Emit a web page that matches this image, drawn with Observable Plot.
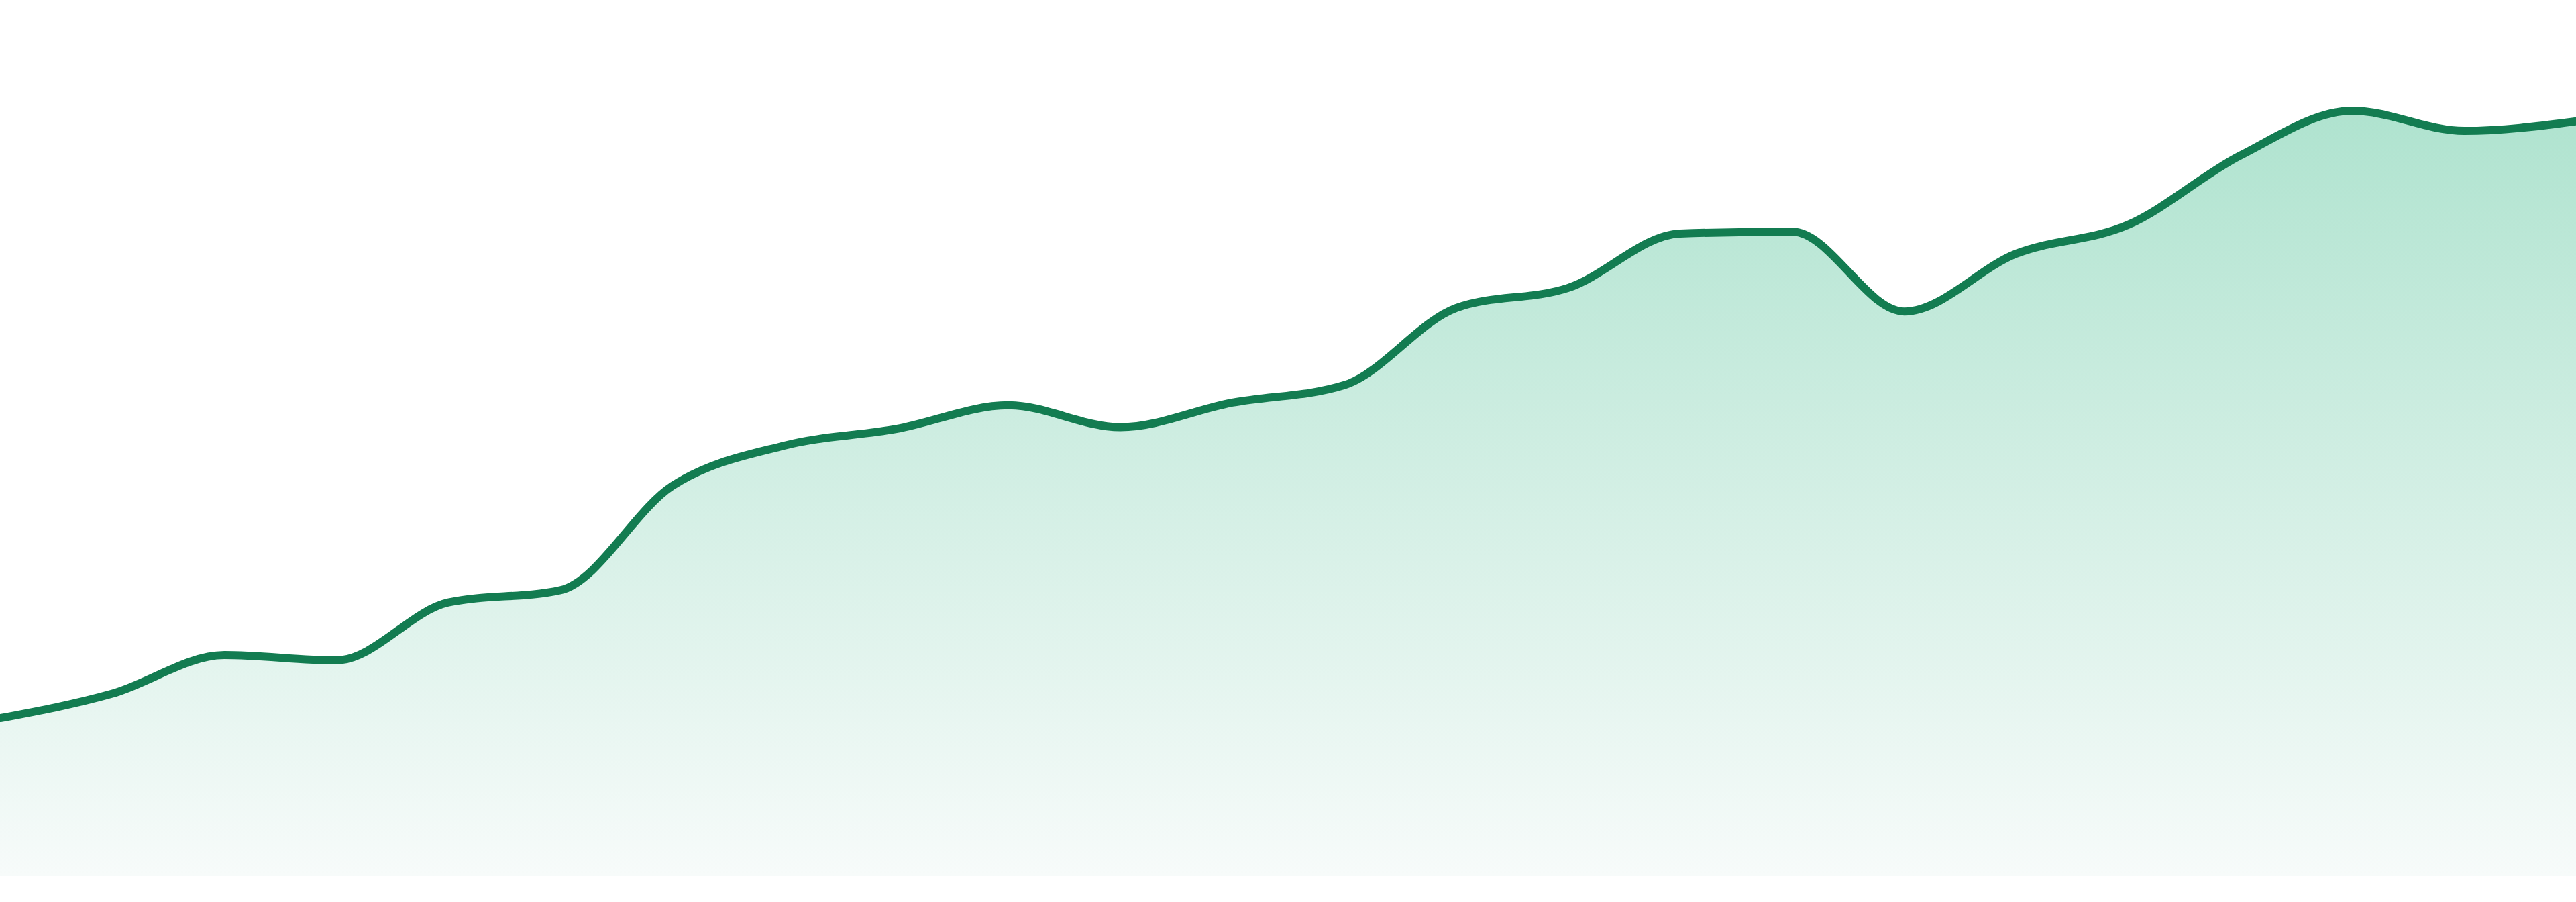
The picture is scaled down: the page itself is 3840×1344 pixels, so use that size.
<!DOCTYPE html>
<html>
<head>
<meta charset="utf-8">
<script src="https://cdn.jsdelivr.net/npm/d3@7"></script>
<script src="https://cdn.jsdelivr.net/npm/@observablehq/plot@0.6"></script>
<style>
  html, body { margin: 0; padding: 0; background: #ffffff; overflow: hidden; }
  #chart svg { display: block; }
</style>
</head>
<body>
<div id="chart"></div>
<script>
// Data (index of each period and its value, 0–100 scale)
const periods = [0,1,2,3,4,5,6,7,8,9,10,11,12,13,14,15,16,17,18,19,20,21,22,23];
const values = [18.1, 20.9, 25.3, 24.7, 31.3, 32.7, 44.6, 49.2, 51.1, 53.8, 51.3, 54.1,
                56.1, 64.9, 67.2, 73.4, 73.6, 64.5, 71.1, 74.4, 82.3, 87.4, 85.1, 86.2];
const gradientStops = ["#afe3cf", "#f7fbfa"];
const lineColor = "#137c51";

const data = periods.map((p, k) => ({p, v: values[k]}));

const plot = Plot.plot({
  width: 3840,
  height: 1344,
  marginTop: 0,
  marginRight: 0,
  marginBottom: 38,
  marginLeft: 0,
  x: {domain: [0, 23], axis: null},
  y: {domain: [0, 100], axis: null},
  marks: [
    Plot.areaY(data, {x: "p", y: "v", curve: "monotone-x", fill: "url(#areaGrad)"}),
    Plot.lineY(data, {x: "p", y: "v", curve: "monotone-x", stroke: lineColor, strokeWidth: 12})
  ]
});

const defs = d3.select(plot).insert("defs", ":first-child");
const grad = defs.append("linearGradient")
  .attr("id", "areaGrad")
  .attr("x1", 0).attr("y1", 0).attr("x2", 0).attr("y2", 1);
grad.append("stop").attr("offset", "0%").attr("stop-color", gradientStops[0]);
grad.append("stop").attr("offset", "100%").attr("stop-color", gradientStops[1]);

document.getElementById("chart").append(plot);
</script>
</body>
</html>
